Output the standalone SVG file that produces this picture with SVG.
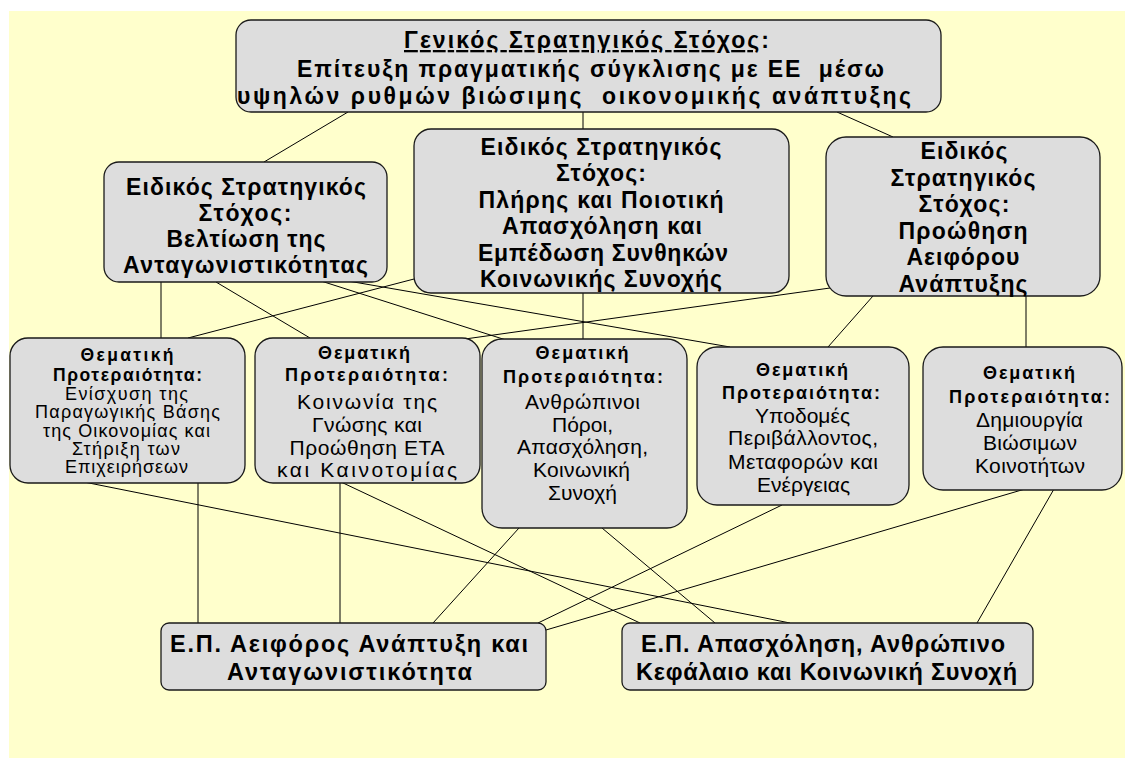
<svg xmlns="http://www.w3.org/2000/svg" width="1125" height="758" viewBox="0 0 1125 758">
<style>
.node rect { fill: #dddddd; stroke: #1a1a1a; stroke-width: 1.3; }
.conn line { stroke: #000; stroke-width: 1; }
text { font-family: "Liberation Sans", Arial, sans-serif; fill: #000; }
.b { font-weight: bold; text-anchor: middle; }
.r { font-weight: normal; text-anchor: middle; }
.s { text-anchor: start; }
.ft { font-size: 23px; }
.fe { font-size: 23px; }
.fh1 { font-size: 17.5px; }
.fh { font-size: 18px; }
.fb1 { font-size: 18px; }
.fb { font-size: 21px; }
.fo { font-size: 23.5px; }
</style>
<rect x="0" y="0" width="1125" height="758" fill="#ffffff"/>
<rect x="9" y="11" width="1116" height="747" fill="#ffffcc"/>

<g id="connectors" class="conn">
  <line x1="348" y1="112" x2="264" y2="162"/>
  <line x1="583" y1="112" x2="583" y2="129"/>
  <line x1="837" y1="112" x2="893" y2="137"/>
  <line x1="161" y1="282" x2="161" y2="338"/>
  <line x1="216" y1="282" x2="310" y2="338"/>
  <line x1="321" y1="281" x2="506" y2="340"/>
  <line x1="348" y1="281" x2="730" y2="347"/>
  <line x1="414" y1="279" x2="188" y2="338"/>
  <line x1="583" y1="293" x2="583" y2="340"/>
  <line x1="830" y1="288" x2="465" y2="339"/>
  <line x1="873" y1="296" x2="828" y2="347"/>
  <line x1="1026" y1="295" x2="1026" y2="347"/>
  <line x1="84" y1="482" x2="790" y2="623"/>
  <line x1="198" y1="482" x2="198" y2="623"/>
  <line x1="340" y1="482" x2="340" y2="623"/>
  <line x1="341" y1="482" x2="640" y2="623"/>
  <line x1="519" y1="528" x2="433" y2="623"/>
  <line x1="602" y1="528" x2="715" y2="623"/>
  <line x1="782" y1="505" x2="538" y2="623"/>
  <line x1="1025" y1="489" x2="546" y2="630"/>
  <line x1="1054" y1="489" x2="977" y2="623"/>
</g>

<g id="general-goal" class="node">
  <rect x="236" y="20" width="705" height="92" rx="15"/>
  <text class="b s ft" x="404" y="48" textLength="365" lengthAdjust="spacing"><tspan text-decoration="underline">Γενικός Στρατηγικός Στόχος</tspan>:</text>
  <text class="b s ft" x="297" y="77" textLength="587" lengthAdjust="spacing" xml:space="preserve">Επίτευξη πραγματικής σύγκλισης με ΕΕ  μέσω</text>
  <text class="b s ft" x="237" y="104" textLength="674" lengthAdjust="spacing" xml:space="preserve">υψηλών ρυθμών βιώσιμης  οικονομικής ανάπτυξης</text>
</g>

<g id="ess-competitiveness" class="node">
  <rect x="104" y="162" width="283" height="120" rx="15"/>
  <text class="b fe" x="246" y="195" textLength="240" lengthAdjust="spacing">Ειδικός Στρατηγικός</text>
  <text class="b fe" x="245" y="221" textLength="93" lengthAdjust="spacing">Στόχος:</text>
  <text class="b fe" x="246" y="247" textLength="159" lengthAdjust="spacing">Βελτίωση της</text>
  <text class="b fe" x="245.5" y="273" textLength="245" lengthAdjust="spacing">Ανταγωνιστικότητας</text>
</g>

<g id="ess-employment" class="node">
  <rect x="414" y="129" width="375" height="164" rx="17"/>
  <text class="b fe" x="601" y="154.5" textLength="241" lengthAdjust="spacing">Ειδικός Στρατηγικός</text>
  <text class="b fe" x="601" y="181" textLength="90" lengthAdjust="spacing">Στόχος:</text>
  <text class="b fe" x="601" y="207.5" textLength="245" lengthAdjust="spacing">Πλήρης και Ποιοτική</text>
  <text class="b fe" x="602" y="234" textLength="200" lengthAdjust="spacing">Απασχόληση και</text>
  <text class="b fe" x="603" y="260.5" textLength="250" lengthAdjust="spacing">Εμπέδωση Συνθηκών</text>
  <text class="b fe" x="601" y="287" textLength="242" lengthAdjust="spacing">Κοινωνικής Συνοχής</text>
</g>

<g id="ess-sustainable" class="node">
  <rect x="826" y="137" width="274" height="159" rx="20"/>
  <text class="b fe" x="964" y="159" textLength="87" lengthAdjust="spacing">Ειδικός</text>
  <text class="b fe" x="963" y="185.6" textLength="145" lengthAdjust="spacing">Στρατηγικός</text>
  <text class="b fe" x="964" y="212.2" textLength="91" lengthAdjust="spacing">Στόχος:</text>
  <text class="b fe" x="963" y="238.8" textLength="129" lengthAdjust="spacing">Προώθηση</text>
  <text class="b fe" x="963" y="265.4" textLength="113" lengthAdjust="spacing">Αειφόρου</text>
  <text class="b fe" x="963" y="292" textLength="129" lengthAdjust="spacing">Ανάπτυξης</text>
</g>

<g id="tp-productive-base" class="node">
  <rect x="10" y="338" width="235" height="145" rx="18"/>
  <text class="b fh1" x="127" y="361" textLength="93" lengthAdjust="spacing">Θεματική</text>
  <text class="b fh1" x="127.5" y="381" textLength="149" lengthAdjust="spacing">Προτεραιότητα:</text>
  <text class="r fb1" x="126.5" y="399.5" textLength="123" lengthAdjust="spacing">Ενίσχυση της</text>
  <text class="r fb1" x="127.5" y="418" textLength="185" lengthAdjust="spacing">Παραγωγικής Βάσης</text>
  <text class="r fb1" x="126.5" y="436.5" textLength="167" lengthAdjust="spacing">της Οικονομίας και</text>
  <text class="r fb1" x="126" y="455" textLength="108" lengthAdjust="spacing">Στήριξη των</text>
  <text class="r fb1" x="126.5" y="473" textLength="123" lengthAdjust="spacing">Επιχειρήσεων</text>
</g>

<g id="tp-knowledge" class="node">
  <rect x="255" y="338" width="225" height="145" rx="18"/>
  <text class="b fh" x="364" y="359" textLength="92" lengthAdjust="spacing">Θεματική</text>
  <text class="b fh" x="366.5" y="381" textLength="163" lengthAdjust="spacing">Προτεραιότητα:</text>
  <text class="r fb" x="367" y="409" textLength="140" lengthAdjust="spacing">Κοινωνία της</text>
  <text class="r fb" x="367" y="432" textLength="110" lengthAdjust="spacing">Γνώσης και</text>
  <text class="r fb" x="367" y="455" textLength="155" lengthAdjust="spacing">Προώθηση ΕΤΑ</text>
  <text class="r fb" x="367" y="477" textLength="180" lengthAdjust="spacing">και Καινοτομίας</text>
</g>

<g id="tp-human-resources" class="node">
  <rect x="482" y="339" width="205" height="189" rx="20"/>
  <text class="b fh" x="582" y="359" textLength="93" lengthAdjust="spacing">Θεματική</text>
  <text class="b fh" x="583" y="383" textLength="160" lengthAdjust="spacing">Προτεραιότητα:</text>
  <text class="r fb" x="582.5" y="409" textLength="115" lengthAdjust="spacing">Ανθρώπινοι</text>
  <text class="r fb" x="582.5" y="432" textLength="61" lengthAdjust="spacing">Πόροι,</text>
  <text class="r fb" x="582.5" y="454" textLength="131" lengthAdjust="spacing">Απασχόληση,</text>
  <text class="r fb" x="581.5" y="477" textLength="97" lengthAdjust="spacing">Κοινωνική</text>
  <text class="r fb" x="582.5" y="500" textLength="69" lengthAdjust="spacing">Συνοχή</text>
</g>

<g id="tp-infrastructure" class="node">
  <rect x="697" y="347" width="212" height="158" rx="20"/>
  <text class="b fh" x="802" y="376" textLength="92" lengthAdjust="spacing">Θεματική</text>
  <text class="b fh" x="801" y="399" textLength="158" lengthAdjust="spacing">Προτεραιότητα:</text>
  <text class="r fb" x="802.5" y="423" textLength="95" lengthAdjust="spacing">Υποδομές</text>
  <text class="r fb" x="803" y="445" textLength="150" lengthAdjust="spacing">Περιβάλλοντος,</text>
  <text class="r fb" x="803" y="469" textLength="150" lengthAdjust="spacing">Μεταφορών και</text>
  <text class="r fb" x="803.5" y="492" textLength="93" lengthAdjust="spacing">Ενέργειας</text>
</g>

<g id="tp-communities" class="node">
  <rect x="923" y="347" width="199" height="143" rx="20"/>
  <text class="b fh" x="1029" y="379" textLength="92" lengthAdjust="spacing">Θεματική</text>
  <text class="b fh" x="1029.5" y="403" textLength="161" lengthAdjust="spacing">Προτεραιότητα:</text>
  <text class="r fb" x="1029.5" y="427" textLength="107" lengthAdjust="spacing">Δημιουργία</text>
  <text class="r fb" x="1030" y="450" textLength="94" lengthAdjust="spacing">Βιώσιμων</text>
  <text class="r fb" x="1030" y="473" textLength="110" lengthAdjust="spacing">Κοινοτήτων</text>
</g>

<g id="op-sustainable-competitiveness" class="node">
  <rect x="161" y="623" width="385" height="67" rx="8"/>
  <text class="b fo" x="349" y="652" textLength="358" lengthAdjust="spacing">Ε.Π. Αειφόρος Ανάπτυξη και</text>
  <text class="b fo" x="349.5" y="680" textLength="245" lengthAdjust="spacing">Ανταγωνιστικότητα</text>
</g>

<g id="op-employment-cohesion" class="node">
  <rect x="622" y="623" width="411" height="67" rx="8"/>
  <text class="b fo" x="823" y="652" textLength="364" lengthAdjust="spacing">Ε.Π. Απασχόληση, Ανθρώπινο</text>
  <text class="b fo" x="826.5" y="680" textLength="381" lengthAdjust="spacing">Κεφάλαιο και Κοινωνική Συνοχή</text>
</g>
</svg>
